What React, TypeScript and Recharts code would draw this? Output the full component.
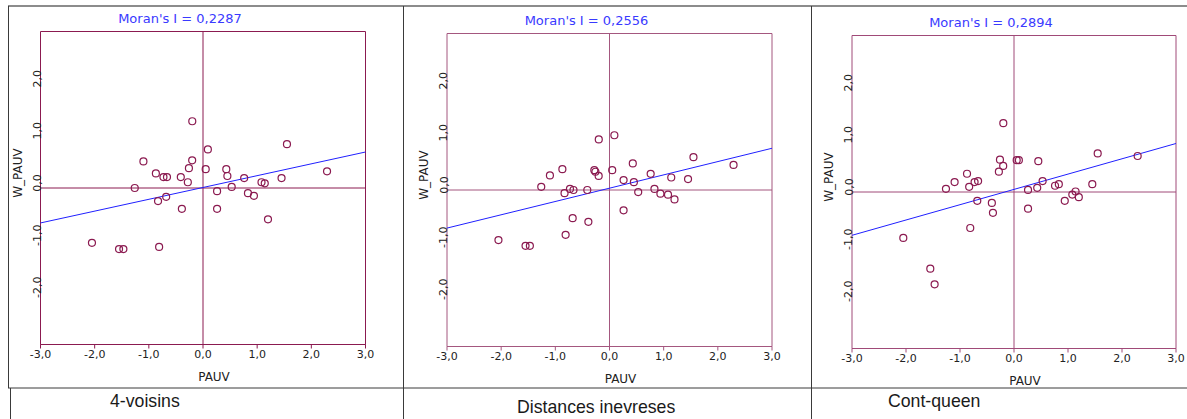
import React from 'react';
import { ScatterChart, Scatter, XAxis, YAxis, ReferenceLine, ReferenceArea } from 'recharts';

// PAUV (standardised), shared by the three panels
const pauv = [
  -2.05, -1.55, -1.47, -1.26, -1.1, -0.87, -0.83, -0.81, -0.73, -0.68, -0.665,
  -0.41, -0.39, -0.28, -0.26, -0.2, -0.198, 0.05, 0.09, 0.26, 0.26, 0.43, 0.45,
  0.53, 0.76, 0.83, 0.94, 1.08, 1.14, 1.2, 1.45, 1.55, 2.29,
];

// W_PAUV, one list per weight matrix
const wVoisins = [
  -1.05, -1.17, -1.17, 0.0, 0.51, 0.28, -0.25, -1.13, 0.21, -0.17, 0.21,
  0.21, -0.4, 0.11, 0.38, 0.53, 1.28, 0.36, 0.74, -0.06, -0.4, 0.36, 0.23,
  0.02, 0.19, -0.1, -0.15, 0.11, 0.09, -0.6, 0.19, 0.84, 0.32,
];
const wDistances = [
  -0.96, -1.07, -1.07, 0.06, 0.28, 0.4, -0.06, -0.86, 0.02, -0.54, 0.0,
  0.0, -0.61, 0.38, 0.35, 0.27, 0.97, 0.38, 1.05, 0.19, -0.39, 0.51, 0.15,
  -0.04, 0.31, 0.02, -0.07, -0.09, 0.24, -0.18, 0.21, 0.63, 0.48,
];
const wQueen = [
  -0.88, -1.47, -1.77, 0.06, 0.19, 0.35, 0.1, -0.69, 0.19, -0.17, 0.21,
  -0.21, -0.4, 0.39, 0.62, 0.5, 1.32, 0.61, 0.61, 0.04, -0.32, 0.08, 0.59,
  0.21, 0.12, 0.15, -0.17, -0.05, 0.01, -0.1, 0.15, 0.74, 0.69,
];

const titles = ["Moran's I = 0,2287", "Moran's I = 0,2556", "Moran's I = 0,2894"];
const captions = ['4-voisins', 'Distances inevreses', 'Cont-queen'];
// regression line: W_PAUV at PAUV = -3 and PAUV = 3
const lineStart = [-0.67, -0.73, -0.83];
const lineEnd = [0.69, 0.8, 0.93];
const xTicks = [-3, -2, -1, 0, 1, 2, 3];
const yTicks = [-2, -1, 0, 1, 2];

const MAROON = '#8b1a50';
const frameColors = ['#8b1a50', '#a4577f', '#a04a78'];
const BLUE = '#2020ff';
const FONT = 'DejaVu Sans';
const AXIS_W = 40;
const AXIS_H = 40;
const TOP_PAD = 28; // room for the title above the frame

// plot boxes on the page
const plots = [
  { left: 40.5, top: 31.5, w: 325, h: 313 },
  { left: 447, top: 33.5, w: 325, h: 313 },
  { left: 852, top: 35.5, w: 324, h: 313 },
];
const captionPos = [
  { x: 110, y: 407 },
  { x: 517, y: 413 },
  { x: 888, y: 407 },
];

const fmt = (v: number) => v.toFixed(1).replace('.', ',');

const YTick = (props: any) => {
  const { x, y, payload } = props;
  const tx = x + 0.5;
  const ty = y - 5;
  return (
    <text
      x={tx}
      y={ty}
      transform={`rotate(-90 ${tx} ${ty})`}
      textAnchor="middle"
      fontSize={11}
      fontFamily={FONT}
      fill="#222"
    >
      {fmt(payload.value)}
    </text>
  );
};

const Ring = (props: any) => (
  <circle cx={props.cx} cy={props.cy} r={3.5} fill="none" stroke={MAROON} strokeWidth={1.2} />
);

const MoranPanel = ({ idx, values }: { idx: number; values: number[] }) => {
  const p = plots[idx];
  const frame = frameColors[idx];
  const data = pauv.map((x, i) => ({ x, y: values[i] }));
  const ml = p.left - Math.floor(p.left);
  const mt = p.top - Math.floor(p.top) + TOP_PAD;
  const width = AXIS_W + ml + p.w + 20;
  const height = mt + p.h + AXIS_H + 2;

  return (
    <div
      style={{
        position: 'absolute',
        left: Math.floor(p.left) - AXIS_W,
        top: Math.floor(p.top) - TOP_PAD,
      }}
    >
      <ScatterChart
        width={width}
        height={height}
        margin={{ top: mt, right: 20, bottom: 2, left: ml }}
        accessibilityLayer={false}
      >
        <XAxis
          type="number"
          dataKey="x"
          domain={[-3, 3]}
          ticks={xTicks}
          interval={0}
          tickFormatter={fmt}
          height={AXIS_H}
          tickSize={4}
          tickMargin={2}
          axisLine={{ stroke: frame }}
          tickLine={{ stroke: frame }}
          tick={{ fill: '#222', fontSize: 11, fontFamily: FONT }}
          label={{
            value: 'PAUV',
            position: 'insideBottom',
            offset: 4,
            dx: 11,
            fill: '#222',
            fontSize: 12,
            fontFamily: FONT,
          }}
        />
        <YAxis
          type="number"
          dataKey="y"
          domain={[-3, 3]}
          ticks={yTicks}
          interval={0}
          width={AXIS_W}
          axisLine={false}
          tickLine={false}
          tickSize={0}
          tickMargin={0}
          tick={(t: any) => <YTick {...t} />}
          label={{
            value: 'W_PAUV',
            angle: -90,
            position: 'center',
            dx: -3,
            dy: -15,
            fill: '#222',
            fontSize: 12,
            fontFamily: FONT,
          }}
        />
        <ReferenceArea
          x1={-3}
          x2={3}
          y1={-3}
          y2={3}
          fill="none"
          stroke={frame}
          strokeWidth={1}
          label={{
            value: titles[idx],
            position: 'top',
            offset: 9,
            dx: -23,
            fill: '#3a3aff',
            fontSize: 13,
            fontFamily: FONT,
          }}
        />
        <ReferenceLine x={0} stroke={frame} strokeWidth={1} />
        <ReferenceLine y={0} stroke={frame} strokeWidth={1} />
        <ReferenceLine
          segment={[
            { x: -3, y: lineStart[idx] },
            { x: 3, y: lineEnd[idx] },
          ]}
          stroke={BLUE}
          strokeWidth={1}
        />
        <Scatter data={data} shape={Ring} isAnimationActive={false} />
      </ScatterChart>
    </div>
  );
};

export default function App() {
  const series = [wVoisins, wDistances, wQueen];
  return (
    <div
      style={{
        position: 'absolute',
        left: 0,
        top: 0,
        width: 1187,
        height: 419,
        overflow: 'hidden',
        background: '#fff',
      }}
    >
      <svg width={1187} height={419} style={{ position: 'absolute', left: 0, top: 0 }}>
        <g stroke="#3a3a3a" strokeWidth={1}>
          <line x1={8} y1={6} x2={1187} y2={6} stroke="#666" strokeWidth={1.5} />
          <line x1={8.5} y1={6} x2={8.5} y2={388} />
          <line x1={10.5} y1={388} x2={10.5} y2={419} />
          <line x1={8} y1={388} x2={1187} y2={388} />
          <line x1={403.5} y1={6} x2={403.5} y2={419} />
          <line x1={811.5} y1={6} x2={811.5} y2={419} />
        </g>
        {captions.map((c, i) => (
          <text
            key={c}
            x={captionPos[i].x}
            y={captionPos[i].y}
            fontSize={17.7}
            fontFamily="Liberation Sans"
            fill="#1a1a1a"
          >
            {c}
          </text>
        ))}
      </svg>
      {series.map((vals, i) => (
        <MoranPanel key={i} idx={i} values={vals} />
      ))}
    </div>
  );
}
